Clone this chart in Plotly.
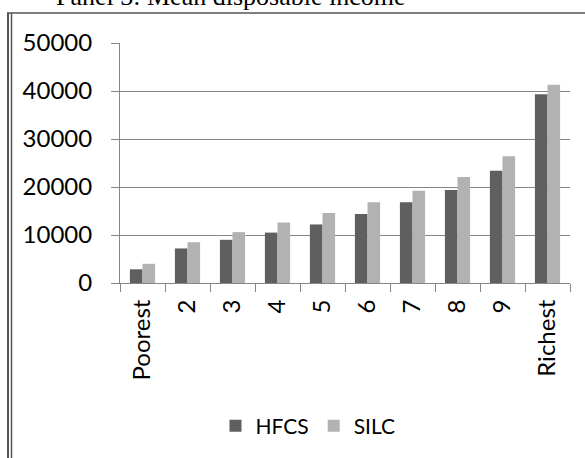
import plotly.graph_objects as go

categories = ["Poorest", "2", "3", "4", "5", "6", "7", "8", "9", "Richest"]
hfcs = [2850, 7200, 9000, 10500, 12200, 14400, 16800, 19400, 23400, 39300]
silc = [4000, 8500, 10600, 12600, 14600, 16800, 19200, 22100, 26400, 41300]
y_ticks = [0, 10000, 20000, 30000, 40000, 50000]
title_text = "Panel 3: Mean disposable income"

W, H = 585, 458
ml, mr, mt, mb = 120, 15, 43, 175
pw, ph = W - ml - mr, H - mt - mb

def px_x(x):
    return (x - ml) / pw

def px_y(y):
    return (H - mb - y) / ph

font_main = "Lato"
fs = 24

fig = go.Figure()
fig.add_trace(go.Bar(name="HFCS", x=categories, y=hfcs,
                     marker=dict(color="#5f5f5f", line=dict(width=0))))
fig.add_trace(go.Bar(name="SILC", x=categories, y=silc,
                     marker=dict(color="#b2b2b2", line=dict(width=0))))

fig.update_layout(
    width=W, height=H,
    margin=dict(l=ml, r=mr, t=mt, b=mb, pad=0, autoexpand=False),
    paper_bgcolor="white", plot_bgcolor="white",
    barmode="group", bargap=0.44, bargroupgap=0,
    font=dict(family=font_main, size=fs, color="#000000"),
    showlegend=True,
    legend=dict(orientation="h", x=px_x(308), y=px_y(426), xanchor="center", yanchor="middle",
                font=dict(family=font_main, size=21), itemwidth=30, bgcolor="rgba(0,0,0,0)"),
    xaxis=dict(type="category", tickangle=-90, ticks="outside", tickson="boundaries",
               ticklen=8, tickcolor="#868686", showline=True, linecolor="#868686", linewidth=1,
               showgrid=False, tickfont=dict(family=font_main, size=fs), fixedrange=True,
               automargin=False, ticklabelstandoff=6),
    yaxis=dict(range=[0, 50000], tickvals=y_ticks, ticktext=[str(v) for v in y_ticks],
               ticks="outside", ticklen=8, tickcolor="#868686", showline=True, linecolor="#868686",
               linewidth=1, showgrid=True, gridcolor="#868686", gridwidth=1, zeroline=False,
               tickfont=dict(family=font_main, size=fs), fixedrange=True, automargin=False,
               ticklabelstandoff=14),
    annotations=[dict(text=title_text, xref="paper", yref="paper", x=px_x(230), y=px_y(-4),
                      xanchor="center", yanchor="middle", showarrow=False,
                      font=dict(family="Liberation Serif", size=26, color="#000000"))],
    shapes=[
        dict(type="line", xref="paper", yref="paper", x0=px_x(8), x1=px_x(8), y0=px_y(13), y1=px_y(470),
             line=dict(color="#555555", width=2)),
        dict(type="line", xref="paper", yref="paper", x0=px_x(11.5), x1=px_x(11.5), y0=px_y(13), y1=px_y(470),
             line=dict(color="#555555", width=1.5)),
        dict(type="line", xref="paper", yref="paper", x0=px_x(7), x1=px_x(590), y0=px_y(13), y1=px_y(13),
             line=dict(color="#555555", width=1.5)),
    ],
)

fig.write_html("out.html", config={"displayModeBar": False},
               post_script="document.body.style.margin='0';document.body.style.overflow='hidden';")
